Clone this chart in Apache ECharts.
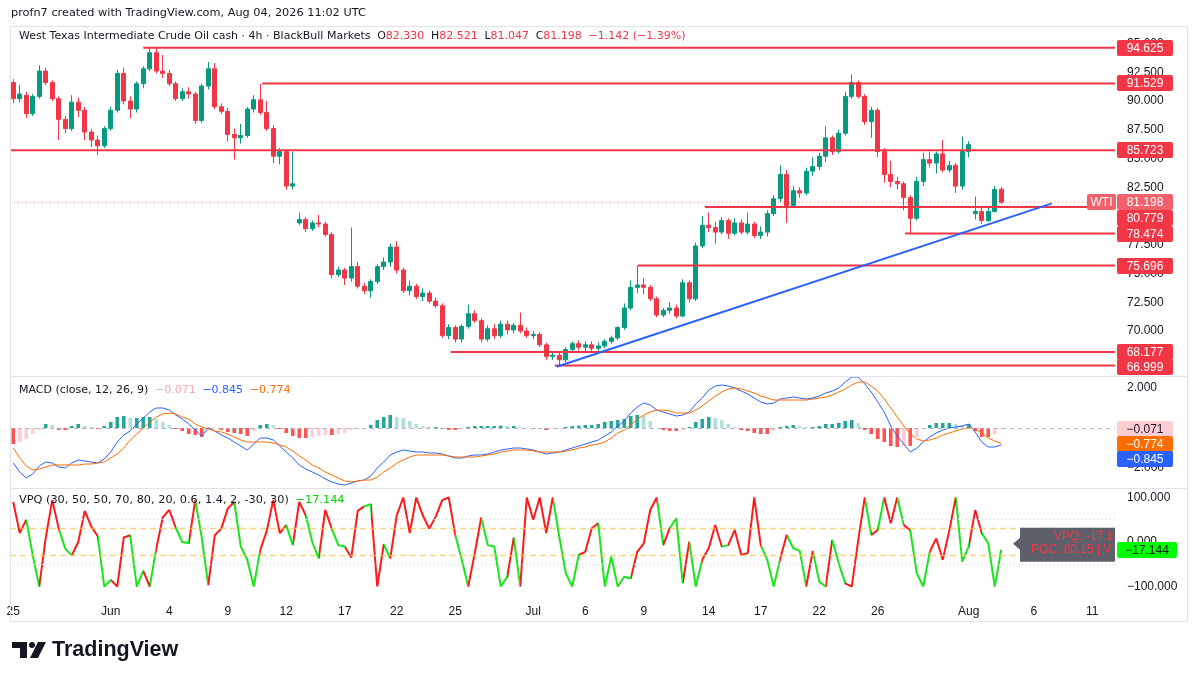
<!DOCTYPE html>
<html><head><meta charset="utf-8">
<script src="https://cdn.jsdelivr.net/npm/echarts@6/dist/echarts.min.js"></script>
<style>html,body{margin:0;padding:0;background:#fff;}#c{width:1200px;height:675px;}</style>
</head><body><div id="c"></div>
<script>
// ---------- DATA (one bar per 8h) ----------
const openP = [
91.6,90.2,90.5,88.9,90.4,92.6,91.6,90.2,88.4,87.6,
89.9,89.2,87.3,86.6,86.1,87.6,89.2,92.4,90.0,89.3,
91.5,92.8,94.2,92.6,92.4,91.5,90.2,90.8,90.6,88.3,
91.3,92.8,89.5,89.1,87.1,86.8,87.0,89.3,90.1,89.0,
87.6,85.2,85.6,82.6,79.4,79.7,78.9,79.4,79.3,78.4,
74.9,75.3,74.6,75.6,73.9,73.5,74.3,75.6,76.0,77.3,
75.3,73.5,73.9,73.0,73.3,72.6,72.2,69.6,70.3,69.3,
70.4,71.5,70.9,69.3,70.2,69.6,70.6,70.1,70.5,70.0,
69.6,69.7,68.8,67.8,67.9,67.5,68.4,68.9,68.6,68.8,
68.5,68.7,69.1,69.4,70.3,72.0,73.8,74.0,73.8,72.8,
71.4,71.8,72.0,71.3,74.2,72.8,77.4,79.2,79.0,78.6,
79.6,78.5,79.4,78.6,79.3,78.3,78.6,80.2,81.5,83.6,
80.9,82.2,82.0,83.9,84.3,85.2,86.8,85.6,87.2,90.4,
91.6,90.4,88.2,89.2,85.6,83.6,83.0,82.8,81.6,79.8,
83.0,84.9,84.6,85.4,84.0,84.4,82.6,85.6,80.2,80.4,
79.6,80.4,82.33];
const highP = [
91.9,91.4,90.8,90.6,93.1,92.9,91.8,90.4,88.7,90.5,
90.3,89.5,87.6,87.0,87.8,89.5,92.7,92.9,90.4,91.7,
93.0,94.7,94.7,94.0,92.7,91.7,91.1,91.2,90.8,91.5,
93.4,93.3,89.8,89.4,87.6,88.0,89.5,90.5,91.5,90.0,
87.9,85.9,85.8,85.6,80.3,79.9,79.6,80.1,79.5,78.6,
75.6,75.5,79.0,76.0,74.2,74.5,75.8,76.4,77.6,77.8,
75.5,74.4,74.1,73.7,73.5,72.9,72.4,70.6,70.5,70.6,
72.3,71.8,71.1,70.5,70.6,70.9,70.9,70.7,71.6,70.3,
70.0,69.9,69.0,68.2,68.1,68.6,69.1,69.2,69.1,69.1,
69.0,69.3,69.6,70.4,72.4,74.4,75.7,74.6,74.0,73.0,
72.0,72.5,72.3,74.5,74.4,77.7,80.0,80.3,79.5,79.9,
79.8,79.8,79.7,80.3,79.5,79.1,80.5,81.8,84.4,84.0,
82.6,82.5,84.2,85.1,85.5,87.8,87.0,87.5,90.8,92.3,
91.8,90.6,89.5,89.4,85.9,84.8,83.4,83.0,81.8,83.4,
85.5,85.6,85.6,86.6,84.8,84.6,86.9,86.5,81.7,80.7,
80.8,82.6,82.521];
const lowP = [
89.8,89.9,88.5,88.7,90.2,91.4,90.0,86.6,87.2,87.4,
88.6,86.6,86.0,85.3,85.9,87.4,89.0,89.7,88.5,89.0,
91.1,92.6,92.4,92.0,91.3,90.0,90.0,90.2,88.0,88.1,
91.0,89.3,88.9,86.5,84.9,86.3,86.8,89.0,88.8,87.4,
84.6,84.5,82.3,82.3,79.2,78.6,78.7,79.0,78.2,74.6,
74.7,74.0,74.3,73.7,73.2,72.9,74.1,75.3,75.6,75.0,
73.3,73.1,72.8,72.6,72.4,72.0,69.4,69.3,69.0,69.0,
70.2,70.7,69.0,69.1,69.3,69.4,69.7,69.8,69.8,69.4,
69.3,68.6,67.5,67.5,67.0,67.3,68.2,68.3,68.2,68.1,
68.2,68.5,68.9,69.2,70.1,71.8,73.3,73.2,72.6,71.2,
71.2,71.5,71.1,71.2,72.5,72.6,77.2,78.6,77.6,78.4,
78.0,78.3,78.4,78.4,78.1,78.0,78.2,80.0,81.2,79.4,
80.7,81.6,81.8,83.5,84.0,84.7,85.3,85.4,87.0,90.2,
90.2,87.9,86.8,85.1,82.9,82.5,82.3,80.5,78.5,79.6,
82.6,84.2,83.7,83.8,83.8,82.0,82.3,85.1,79.7,79.3,
79.5,80.3,81.047];
const closeP = [
90.2,90.6,88.9,90.4,92.6,91.6,90.2,88.4,87.6,89.9,
89.2,87.3,86.6,86.1,87.6,89.2,92.4,90.0,89.3,91.5,
92.8,94.2,92.6,92.4,91.5,90.2,90.8,90.6,88.3,91.3,
92.8,89.5,89.1,87.1,86.8,87.0,89.3,90.1,89.0,87.6,
85.2,85.6,82.6,82.8,79.7,78.9,79.4,79.3,78.4,74.9,
75.3,74.6,75.6,73.9,73.5,74.3,75.6,76.0,77.3,75.3,
73.5,73.9,73.0,73.3,72.6,72.2,69.6,70.3,69.3,70.4,
71.5,70.9,69.3,70.2,69.6,70.6,70.1,70.5,70.0,69.6,
69.7,68.8,67.8,67.9,67.5,68.4,68.9,68.6,68.8,68.5,
68.7,69.1,69.4,70.3,72.0,73.8,74.0,73.8,72.8,71.4,
71.8,72.0,71.3,74.2,72.8,77.4,79.2,79.0,78.6,79.6,
78.5,79.4,78.6,79.3,78.3,78.6,80.2,81.5,83.6,80.9,
82.2,82.0,83.9,84.3,85.2,86.8,85.6,87.2,90.4,91.6,
90.4,88.2,89.2,85.6,83.6,83.0,82.8,81.6,79.8,83.0,
84.9,84.6,85.4,84.0,84.4,82.6,85.6,86.2,80.4,79.6,
80.4,82.3,81.198];

const macdLine = [
-1.75,-2.2,-2.5,-2.3,-1.9,-1.7,-1.75,-1.95,-2.0,-1.75,
-1.6,-1.65,-1.7,-1.75,-1.55,-1.2,-0.7,-0.35,-0.15,0.2,
0.5,0.8,1.0,1.0,0.9,0.65,0.45,0.2,-0.1,-0.4,
0.0,-0.15,-0.35,-0.5,-0.7,-0.9,-1.1,-0.8,-0.5,-0.5,
-0.6,-0.9,-1.2,-1.5,-1.85,-2.05,-2.2,-2.35,-2.55,-2.7,
-2.8,-2.85,-2.75,-2.65,-2.6,-2.4,-2.0,-1.7,-1.35,-1.2,
-1.1,-1.15,-1.2,-1.2,-1.25,-1.25,-1.3,-1.4,-1.5,-1.5,
-1.4,-1.35,-1.35,-1.3,-1.2,-1.1,-1.05,-1.0,-1.0,-1.05,
-1.1,-1.2,-1.3,-1.25,-1.2,-1.1,-1.0,-0.9,-0.8,-0.7,
-0.6,-0.4,-0.2,0.1,0.35,0.75,1.05,1.25,1.15,0.9,
0.8,0.7,0.6,0.65,0.8,1.2,1.5,1.9,2.1,2.15,
2.1,2.0,1.85,1.7,1.5,1.3,1.2,1.25,1.45,1.5,
1.55,1.5,1.45,1.5,1.6,1.75,1.85,2.0,2.3,2.55,
2.55,2.2,1.8,1.3,0.8,0.1,-0.4,-0.8,-1.2,-1.0,
-0.7,-0.45,-0.25,-0.1,0.0,0.05,0.1,0.2,-0.2,-0.7,
-0.95,-0.95,-0.845];
const signalLine = [
-1.0,-1.5,-1.9,-2.1,-2.05,-1.95,-1.85,-1.85,-1.85,-1.85,
-1.85,-1.8,-1.8,-1.75,-1.7,-1.5,-1.3,-1.0,-0.6,-0.3,
0.0,0.3,0.55,0.7,0.75,0.7,0.55,0.45,0.2,0.05,
-0.05,-0.15,-0.2,-0.3,-0.45,-0.6,-0.7,-0.7,-0.7,-0.7,
-0.75,-0.85,-0.95,-1.15,-1.4,-1.6,-1.85,-2.0,-2.2,-2.35,
-2.5,-2.65,-2.7,-2.65,-2.6,-2.6,-2.45,-2.2,-2.0,-1.75,
-1.6,-1.45,-1.35,-1.35,-1.35,-1.35,-1.35,-1.4,-1.45,-1.45,
-1.45,-1.45,-1.4,-1.35,-1.3,-1.2,-1.15,-1.1,-1.1,-1.1,
-1.15,-1.2,-1.2,-1.2,-1.2,-1.15,-1.1,-1.0,-0.95,-0.85,
-0.8,-0.7,-0.5,-0.25,-0.1,0.15,0.45,0.65,0.8,0.9,
0.9,0.85,0.75,0.75,0.75,0.9,1.1,1.35,1.6,1.8,
1.95,2.0,1.95,1.85,1.75,1.6,1.5,1.4,1.4,1.4,
1.4,1.4,1.4,1.45,1.5,1.55,1.65,1.8,1.95,2.15,
2.3,2.3,2.1,1.85,1.45,1.0,0.55,0.1,-0.3,-0.55,
-0.65,-0.6,-0.5,-0.35,-0.25,-0.15,-0.05,0.0,-0.05,-0.25,
-0.5,-0.65,-0.774];
const macdHist = [
-0.8,-0.7,-0.55,-0.3,-0.1,0.2,0.15,-0.1,-0.1,0.1,
0.2,0.1,0.05,-0.05,0.1,0.3,0.55,0.6,0.5,0.5,
0.55,0.55,0.45,0.3,0.15,-0.05,-0.15,-0.3,-0.35,-0.45,
0.02,0.0,-0.1,-0.2,-0.25,-0.3,-0.4,-0.15,0.15,0.2,
0.15,-0.05,-0.25,-0.4,-0.5,-0.5,-0.45,-0.4,-0.35,-0.35,
-0.3,-0.25,-0.1,-0.05,0.0,0.15,0.4,0.55,0.65,0.55,
0.5,0.35,0.2,0.1,0.05,0.05,-0.05,-0.1,-0.1,-0.05,
0.05,0.1,0.1,0.1,0.1,0.12,0.1,0.1,0.05,0.0,
-0.05,-0.05,-0.1,-0.05,0.0,0.05,0.1,0.12,0.15,0.15,
0.2,0.3,0.35,0.4,0.45,0.6,0.65,0.6,0.35,0.0,
-0.1,-0.15,-0.15,-0.1,0.05,0.3,0.45,0.55,0.5,0.4,
0.2,0.05,-0.1,-0.15,-0.25,-0.3,-0.3,-0.15,0.05,0.1,
0.15,0.1,0.05,0.05,0.1,0.2,0.2,0.25,0.35,0.4,
0.25,-0.1,-0.3,-0.55,-0.7,-0.9,-0.95,-0.9,-0.9,-0.45,
-0.05,0.15,0.25,0.25,0.25,0.2,0.15,0.2,-0.15,-0.45,
-0.45,-0.3,-0.071];

const vpq = [
90,20,50,-30,-100,10,94,30,-15,-30,
0,70,35,13,-100,-85,-100,10,15,-100,
-65,-100,-15,55,72,32,0,-3,94,10,
-97,15,30,75,90,-10,-40,-100,-18,25,
94,20,38,-7,90,60,0,-37,72,30,
-7,-10,-35,70,80,85,-100,-5,-37,60,
100,20,100,60,30,57,94,100,16,-40,
-100,-25,55,-7,-10,-100,-78,10,-100,100,
50,100,20,100,12,-70,-100,-29,-22,31,
42,-100,-33,-100,-78,-82,-22,-3,72,100,
-7,31,53,-93,1,-100,-40,-14,38,-10,
-7,27,-29,-25,100,-7,-40,-100,-37,16,
-14,-20,-100,-20,-89,-100,5,-48,-93,-100,
4,100,16,27,100,42,100,38,27,-70,
-100,-22,8,-40,25,100,-44,-10,72,20,
-3,-100,-17.144];
// 1 = red state, 0 = green state (segment ending at that bar)
const vpqRed = [
1,1,1,0,0,1,1,1,0,0,
1,1,1,1,0,0,1,1,1,0,
0,1,0,1,1,1,0,0,1,0,
0,1,1,1,1,0,0,0,0,1,
1,1,1,0,1,1,0,0,1,1,
0,0,1,1,1,0,1,1,0,1,
1,1,1,1,1,1,1,1,1,0,
0,1,1,0,0,0,0,1,0,1,
1,1,1,1,0,0,0,0,1,1,
1,0,0,0,0,0,1,1,1,1,
0,1,0,0,1,0,0,1,1,1,
0,1,1,1,1,1,0,0,0,1,
0,0,0,1,0,0,1,0,0,1,
1,1,0,1,0,1,1,0,1,0,
0,0,1,1,1,1,0,0,1,1,
0,0,0];

const tickIdx  = [0,15,24,33,42,51,59,68,80,88,97,107,115,124,133,147,157,166];
const tickText = ['25','Jun','4','9','12','17','22','25','Jul','6','9','14','17','22','26','Aug','6','11'];
const priceTicks = [67.5,70,72.5,75,77.5,80,82.5,85,87.5,90,92.5,95];
const macdTicks = [-2,2];
const vpqTicks = [-100,0,100];

const levels     = [94.625, 91.529, 85.723, 80.779, 78.474, 75.696, 68.177, 66.999];
const levelStart = [20, 38.3, -0.5, 106.4, 137.2, 96.1, 67.3, 83.3];
const trendLine  = [[83.6, 66.9], [159.8, 81.1]];
const lastPrice  = 81.198;
const priceChange = '−1.142 (−1.39%)';

// ---------- CHART ----------
const FONT = "'Liberation Sans', Arial, sans-serif";
const HFONT = "'DejaVu Sans', sans-serif";
const N = 170;
const cats = Array.from({length: N}, (_, i) => String(i));
const last = openP.length - 1;
const fmt = v => (v < 0 ? '−' : '') + Math.abs(v).toFixed(3);

const candles = openP.map((o, i) => [o, closeP[i], lowP[i], highP[i]]);
const histData = macdHist.map((v, i) => {
  const p = i > 0 ? macdHist[i - 1] : 0;
  let c;
  if (v >= 0) c = v >= p ? '#26a69a' : '#b2dfdb';
  else c = v <= p ? '#ff5252' : '#ffcdd2';
  return {value: v, itemStyle: {color: c}};
});

const chart = echarts.init(document.getElementById('c'), null, {renderer: 'canvas', width: 1200, height: 675});

const catAxis = (g, labels) => ({
  type: 'category', gridIndex: g, data: cats, boundaryGap: true,
  axisLine: {show: false}, axisTick: {show: false}, splitLine: {show: false},
  axisLabel: labels ? {
    show: true,
    interval: (idx) => tickIdx.indexOf(idx) >= 0,
    formatter: (val) => { const k = tickIdx.indexOf(Number(val)); return k >= 0 ? tickText[k] : ''; },
    color: '#131722', fontSize: 12, margin: 8, fontFamily: FONT
  } : {show: false}
});
const valAxis = (g, min, max, ticks) => ({
  type: 'value', gridIndex: g, position: 'right', min: min, max: max,
  splitLine: {show: false}, axisLine: {show: false}, axisTick: {show: false},
  axisLabel: {customValues: ticks, formatter: v => fmt(v), color: '#131722', fontSize: 12, margin: 12, fontFamily: FONT}
});

const series = [];
series.push({
  name: 'price', type: 'candlestick', xAxisIndex: 0, yAxisIndex: 0, data: candles, barWidth: '62%',
  itemStyle: {color: '#089981', color0: '#f23645', borderColor: '#089981', borderColor0: '#f23645', borderWidth: 1}
});
series.push({
  type: 'line', xAxisIndex: 3, yAxisIndex: 0, data: [[-0.5, lastPrice], [N - 0.5, lastPrice]],
  symbol: 'none', silent: true, z: 3, lineStyle: {color: 'rgba(242,54,69,0.55)', width: 1, type: [1, 3]}
});
levels.forEach((lv, k) => series.push({
  type: 'line', xAxisIndex: 3, yAxisIndex: 0, data: [[levelStart[k], lv], [N - 0.5, lv]],
  symbol: 'none', silent: true, z: 4, lineStyle: {color: '#f23645', width: 2}
}));
series.push({
  type: 'line', xAxisIndex: 3, yAxisIndex: 0, data: trendLine,
  symbol: 'none', silent: true, z: 4, lineStyle: {color: '#2962ff', width: 2}
});
series.push({
  type: 'bar', xAxisIndex: 1, yAxisIndex: 1, data: histData, barWidth: '55%',
  markLine: {silent: true, symbol: 'none', label: {show: false},
    lineStyle: {color: '#b2b5be', type: [4, 4], width: 1}, data: [{yAxis: 0}]}
});
series.push({type: 'line', xAxisIndex: 1, yAxisIndex: 1, data: macdLine, symbol: 'none', lineStyle: {color: '#2962ff', width: 1}, z: 3});
series.push({type: 'line', xAxisIndex: 1, yAxisIndex: 1, data: signalLine, symbol: 'none', lineStyle: {color: '#ff6d00', width: 1}, z: 3});
const vpqIndex = series.length;
series.push({
  type: 'line', xAxisIndex: 2, yAxisIndex: 2, data: vpq, symbol: 'none', z: 3,
  lineStyle: {width: 2},
  markLine: {silent: true, symbol: 'none', label: {show: false}, data: [
    {yAxis: 30, lineStyle: {color: 'rgba(255,196,80,0.75)', type: [6, 4], width: 1.3}},
    {yAxis: -30, lineStyle: {color: 'rgba(255,196,80,0.75)', type: [6, 4], width: 1.3}},
    {yAxis: 50, lineStyle: {color: '#d1d4dc', type: [1, 3], width: 1}},
    {yAxis: -50, lineStyle: {color: '#d1d4dc', type: [1, 3], width: 1}}
  ]}
});

chart.setOption({
  animation: false,
  backgroundColor: '#ffffff',
  grid: [
    {left: 10, right: 85, top: 26, height: 350},
    {left: 10, right: 85, top: 376, height: 112},
    {left: 10, right: 85, top: 488, height: 110}
  ],
  xAxis: [catAxis(0, false), catAxis(1, false), catAxis(2, true),
    {type: 'value', gridIndex: 0, min: -0.5, max: N - 0.5, show: false}],
  yAxis: [valAxis(0, 66.09, 96.52, priceTicks), valAxis(1, -3.0, 2.6, macdTicks), valAxis(2, -125.8, 121.3, vpqTicks)],
  visualMap: [{
    type: 'piecewise', show: false, seriesIndex: vpqIndex, dimension: 0,
    pieces: vpqRed.map((r, i) => ({gt: i - 1, lte: i, color: r ? '#ff1a1a' : '#19e619'})),
    outOfRange: {color: '#19e619'}
  }],
  series: series
});

// ---------- OVERLAYS (labels positioned through the axes) ----------
const py = (a, v) => chart.convertToPixel({yAxisIndex: a}, v);
const els = [];
const Z = 100;
els.push({type: 'rect', z: Z, silent: true, shape: {x: 10.5, y: 26.5, width: 1177, height: 595}, style: {fill: 'none', stroke: '#e0e3eb', lineWidth: 1}});
els.push({type: 'line', z: Z, silent: true, shape: {x1: 10, y1: 376.5, x2: 1188, y2: 376.5}, style: {stroke: '#e0e3eb', lineWidth: 1}});
els.push({type: 'line', z: Z, silent: true, shape: {x1: 10, y1: 488.5, x2: 1188, y2: 488.5}, style: {stroke: '#e0e3eb', lineWidth: 1}});

function box(x, yc, w, text, fill, color) {
  els.push({type: 'rect', z: Z + 1, silent: true, shape: {x: x, y: Math.round(yc) - 8, width: w, height: 16, r: 2}, style: {fill: fill}});
  els.push({type: 'text', z: Z + 2, silent: true, style: {x: x + w / 2, y: Math.round(yc) + 0.5, text: text, fill: color, align: 'center', verticalAlign: 'middle', font: '12px ' + FONT}});
}
const plabels = levels.map(v => ({v: v, y: py(0, v), fill: '#f23645'}));
plabels.push({v: lastPrice, y: py(0, lastPrice), fill: '#f0616c', cur: true});
plabels.sort((a, b) => a.y - b.y);
for (let k = 1; k < plabels.length; k++) if (plabels[k].y < plabels[k - 1].y + 15.5) plabels[k].y = plabels[k - 1].y + 15.5;
plabels.forEach(p => {
  box(1117, p.y, 56, p.v.toFixed(3), p.fill, '#ffffff');
  if (p.cur) box(1087, p.y, 29, 'WTI', '#f0616c', '#ffffff');
});
const mvals = [
  {v: macdHist[last], fill: '#ffcdd2', color: '#131722'},
  {v: signalLine[last], fill: '#ff6d00', color: '#ffffff'},
  {v: macdLine[last], fill: '#2962ff', color: '#ffffff'}
];
const my = py(1, mvals[0].v);
mvals.forEach((m, k) => { box(1117, my + k * 15, 56, fmt(m.v), m.fill, m.color); });
const vy = py(2, vpq[last]);
box(1117, vy, 60, fmt(vpq[last]), '#00ff00', '#131722');
els.push({type: 'rect', z: Z + 1, silent: true, shape: {x: 1020, y: vy - 22, width: 95, height: 34}, style: {fill: '#5d606b'}});
els.push({type: 'polygon', z: Z + 1, silent: true, shape: {points: [[1020, vy - 12], [1013, vy - 6], [1020, vy]]}, style: {fill: '#5d606b'}});
els.push({type: 'text', z: Z + 2, silent: true, style: {x: 1054, y: vy - 13, text: 'VPQ: -17.1', fill: '#f23645', verticalAlign: 'middle', font: '12px ' + FONT, width: 61, overflow: 'truncate', ellipsis: ''}});
els.push({type: 'text', z: Z + 2, silent: true, style: {x: 1031, y: vy + 0, text: 'POC: 80.15 | VA', fill: '#f23645', verticalAlign: 'middle', font: '12px ' + FONT, width: 84, overflow: 'truncate', ellipsis: ''}});

// header texts
els.push({type: 'text', z: Z, silent: true, style: {x: 11, y: 13, text: 'profn7 created with TradingView.com, Aug 04, 2026 11:02 UTC', fill: '#131722', verticalAlign: 'middle', font: '11.3px ' + HFONT}});
const f11 = '11px ' + HFONT;
els.push({type: 'text', z: Z, silent: true, style: {x: 19, y: 36, verticalAlign: 'middle',
  text: '{t|West Texas Intermediate Crude Oil cash · 4h · BlackBull Markets}  {k|O}{r|' + openP[last].toFixed(3) + '}  {k|H}{r|' + highP[last].toFixed(3) + '}  {k|L}{r|' + lowP[last].toFixed(3) + '}  {k|C}{r|' + closeP[last].toFixed(3) + '}  {r|' + priceChange + '}',
  rich: {t: {fill: '#131722', font: f11}, k: {fill: '#131722', font: f11}, r: {fill: '#f23645', font: f11}}}});
els.push({type: 'text', z: Z, silent: true, style: {x: 19, y: 390, verticalAlign: 'middle',
  text: '{t|MACD (close, 12, 26, 9)}  {a|' + fmt(macdHist[last]) + '}  {b|' + fmt(macdLine[last]) + '}  {c|' + fmt(signalLine[last]) + '}',
  rich: {t: {fill: '#131722', font: f11}, a: {fill: '#f7a9b1', font: f11}, b: {fill: '#2962ff', font: f11}, c: {fill: '#ff6d00', font: f11}}}});
const f113 = '11.3px ' + HFONT;
els.push({type: 'text', z: Z, silent: true, style: {x: 19, y: 500, verticalAlign: 'middle',
  text: '{t|VPQ (30, 50, 50, 70, 80, 20, 0.6, 1.4, 2, -30, 30)}  {g|' + fmt(vpq[last]) + '}',
  rich: {t: {fill: '#131722', font: f113}, g: {fill: '#00d400', font: f113}}}});

// TradingView logo
els.push({type: 'rect', z: Z, silent: true, shape: {x: 12, y: 642, width: 15, height: 6}, style: {fill: '#131722'}});
els.push({type: 'rect', z: Z, silent: true, shape: {x: 20, y: 642, width: 7, height: 16}, style: {fill: '#131722'}});
els.push({type: 'circle', z: Z, silent: true, shape: {cx: 32, cy: 645, r: 3}, style: {fill: '#131722'}});
els.push({type: 'polygon', z: Z, silent: true, shape: {points: [[38, 642], [46, 642], [38, 658], [30, 658]]}, style: {fill: '#131722'}});
els.push({type: 'text', z: Z, silent: true, style: {x: 52, y: 650, text: 'TradingView', fill: '#131722', verticalAlign: 'middle', font: 'bold 21.5px ' + FONT}});

chart.setOption({graphic: {elements: els}});
</script>
</body></html>
